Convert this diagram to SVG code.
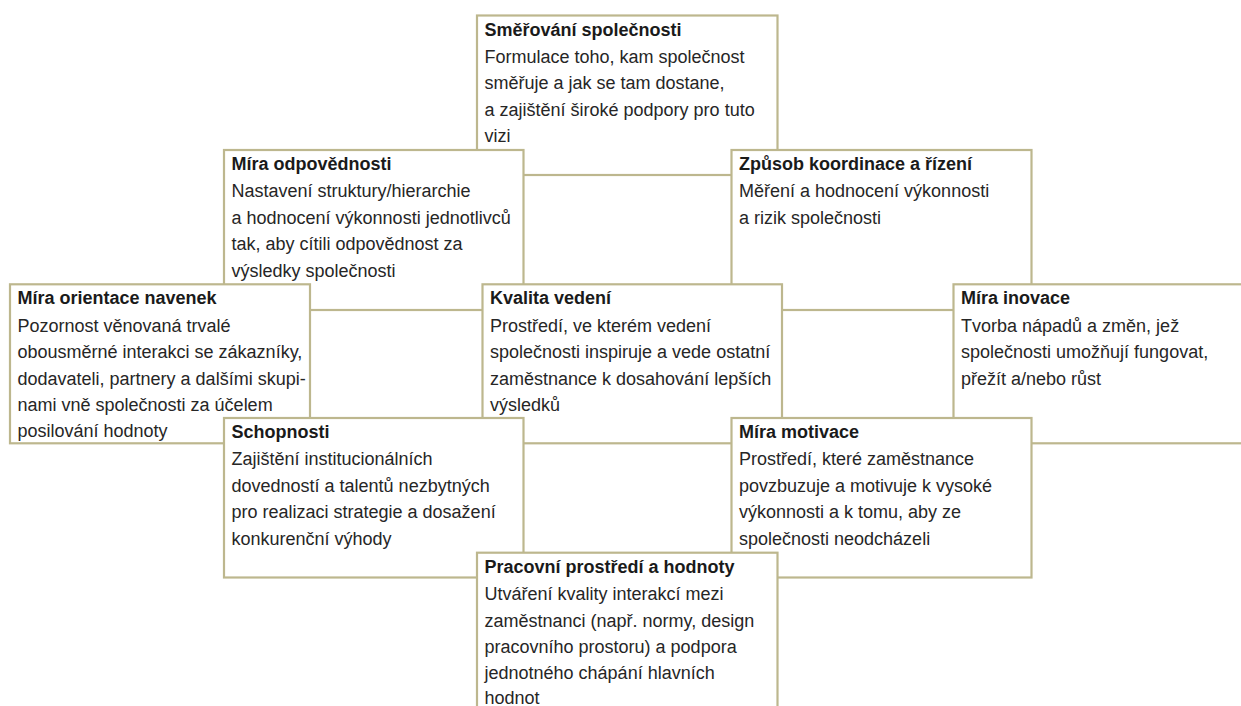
<svg xmlns="http://www.w3.org/2000/svg" width="1241" height="706" viewBox="0 0 1241 706">
<style>
.box{fill:#ffffff;stroke:#bdb78e;stroke-width:2.2}
.t{font-family:"Liberation Sans",Arial,sans-serif;font-size:18px;font-weight:bold;fill:#1a1a1a}
.b{font-family:"Liberation Sans",Arial,sans-serif;font-size:18px;fill:#262626}
</style>
<rect width="1241" height="706" fill="#ffffff"/>
<g id="smerovani">
<rect class="box" x="477" y="15.5" width="300.5" height="159.5"/>
<text class="t" x="484.5" y="35.5">Směřování společnosti</text>
<text class="b" x="484.5" y="62.9">Formulace toho, kam společnost<tspan x="484.5" y="89.3">směřuje a jak se tam dostane,</tspan><tspan x="484.5" y="115.7">a zajištění široké podpory pro tuto</tspan><tspan x="484.5" y="142.1">vizi</tspan></text>
</g>
<g id="mira-odpovednosti">
<rect class="box" x="224" y="150" width="299.5" height="160"/>
<text class="t" x="231.5" y="170">Míra odpovědnosti</text>
<text class="b" x="231.5" y="197.4">Nastavení struktury/hierarchie<tspan x="231.5" y="223.8">a hodnocení výkonnosti jednotlivců</tspan><tspan x="231.5" y="250.2">tak, aby cítili odpovědnost za</tspan><tspan x="231.5" y="276.6">výsledky společnosti</tspan></text>
</g>
<g id="zpusob-koordinace">
<rect class="box" x="731.5" y="150" width="300" height="160"/>
<text class="t" x="739" y="170">Způsob koordinace a řízení</text>
<text class="b" x="739" y="197.4">Měření a hodnocení výkonnosti<tspan x="739" y="223.8">a rizik společnosti</tspan></text>
</g>
<g id="mira-orientace">
<rect class="box" x="10" y="284.3" width="300" height="159"/>
<text class="t" x="17.5" y="304.3">Míra orientace navenek</text>
<text class="b" x="17.5" y="331.7">Pozornost věnovaná trvalé<tspan x="17.5" y="358.1">obousměrné interakci se zákazníky,</tspan><tspan x="17.5" y="384.5">dodavateli, partnery a dalšími skupi-</tspan><tspan x="17.5" y="410.9">nami vně společnosti za účelem</tspan><tspan x="17.5" y="437.3">posilování hodnoty</tspan></text>
</g>
<g id="kvalita-vedeni">
<rect class="box" x="482.5" y="284.3" width="299.5" height="159"/>
<text class="t" x="490" y="304.3">Kvalita vedení</text>
<text class="b" x="490" y="331.7">Prostředí, ve kterém vedení<tspan x="490" y="358.1">společnosti inspiruje a vede ostatní</tspan><tspan x="490" y="384.5">zaměstnance k dosahování lepších</tspan><tspan x="490" y="410.9">výsledků</tspan></text>
</g>
<g id="mira-inovace">
<rect class="box" x="953.5" y="284.3" width="300" height="159"/>
<text class="t" x="961" y="304.3">Míra inovace</text>
<text class="b" x="961" y="331.7">Tvorba nápadů a změn, jež<tspan x="961" y="358.1">společnosti umožňují fungovat,</tspan><tspan x="961" y="384.5">přežít a/nebo růst</tspan></text>
</g>
<g id="schopnosti">
<rect class="box" x="224" y="418" width="299.5" height="159.5"/>
<text class="t" x="231.5" y="438">Schopnosti</text>
<text class="b" x="231.5" y="465.4">Zajištění institucionálních<tspan x="231.5" y="491.8">dovedností a talentů nezbytných</tspan><tspan x="231.5" y="518.2">pro realizaci strategie a dosažení</tspan><tspan x="231.5" y="544.6">konkurenční výhody</tspan></text>
</g>
<g id="mira-motivace">
<rect class="box" x="731.5" y="418" width="300" height="159.5"/>
<text class="t" x="739" y="438">Míra motivace</text>
<text class="b" x="739" y="465.4">Prostředí, které zaměstnance<tspan x="739" y="491.8">povzbuzuje a motivuje k vysoké</tspan><tspan x="739" y="518.2">výkonnosti a k tomu, aby ze</tspan><tspan x="739" y="544.6">společnosti neodcházeli</tspan></text>
</g>
<g id="pracovni-prostredi">
<rect class="box" x="477" y="552.7" width="300.5" height="159.5"/>
<text class="t" x="484.5" y="572.7">Pracovní prostředí a hodnoty</text>
<text class="b" x="484.5" y="600.1">Utváření kvality interakcí mezi<tspan x="484.5" y="626.5">zaměstnanci (např. normy, design</tspan><tspan x="484.5" y="652.9">pracovního prostoru) a podpora</tspan><tspan x="484.5" y="679.3">jednotného chápání hlavních</tspan><tspan x="484.5" y="703.5">hodnot</tspan></text>
</g>
</svg>
